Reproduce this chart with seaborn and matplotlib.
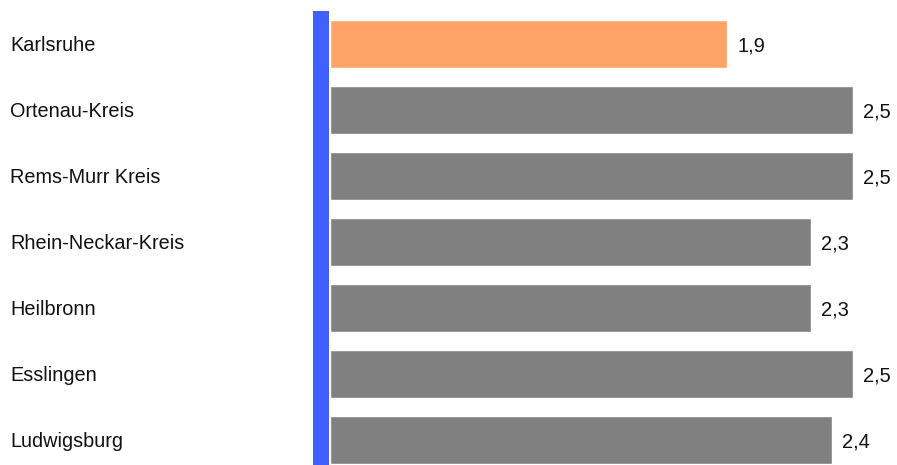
import matplotlib
matplotlib.use("Agg")
import matplotlib.pyplot as plt
import seaborn as sns
import pandas as pd

kreise = ["Karlsruhe", "Ortenau-Kreis", "Rems-Murr Kreis", "Rhein-Neckar-Kreis",
          "Heilbronn", "Esslingen", "Ludwigsburg"]
werte = [1.9, 2.5, 2.5, 2.3, 2.3, 2.5, 2.4]
farben = ["#FFA366", "#808080", "#808080", "#808080", "#808080", "#808080", "#808080"]

sns.set_theme(style="white")
plt.rcParams["font.family"] = ["Liberation Sans", "DejaVu Sans"]

df = pd.DataFrame({"kreis": kreise, "wert": werte})

W, H = 897, 465
fig = plt.figure(figsize=(W / 100, H / 100), dpi=100)
# Achse beginnt bei 300 px, Balken bei 330 px (Wert 0), ~209 px pro Einheit
px_unit = 209.0
left_px = 300
ax = fig.add_axes([left_px / W, 0, 1 - left_px / W, 1])

sns.barplot(data=df, x="wert", y="kreis", hue="kreis", palette=farben,
            legend=False, width=48 / 66, ax=ax, saturation=1)

ax.set_xlim(-(330 - left_px) / px_unit, (W - 330) / px_unit)
ax.set_ylim((H - 44) / 66, -44 / 66)

# blaue Grundlinie links der Balken
ax.fill_betweenx([-0.5, (H - 44) / 66], -17 / px_unit, -1 / px_unit,
                 color="#4060FF", linewidth=0)

for i, v in enumerate(werte):
    ax.text(v + 10 / px_unit, i + 1.5 / 66, f"{v:.1f}".replace(".", ","),
            va="center", ha="left", fontsize=14.5, color="#111111")

ax.set_yticks([])
ax.set_xticks([])
ax.set_xlabel("")
ax.set_ylabel("")
for s in ax.spines.values():
    s.set_visible(False)

for i, k in enumerate(kreise):
    fig.text(10 / W, 1 - (45.5 + 66 * i) / H, k, ha="left", va="center",
             fontsize=14.3, color="#111111")

fig.savefig("out.png", dpi=100)
